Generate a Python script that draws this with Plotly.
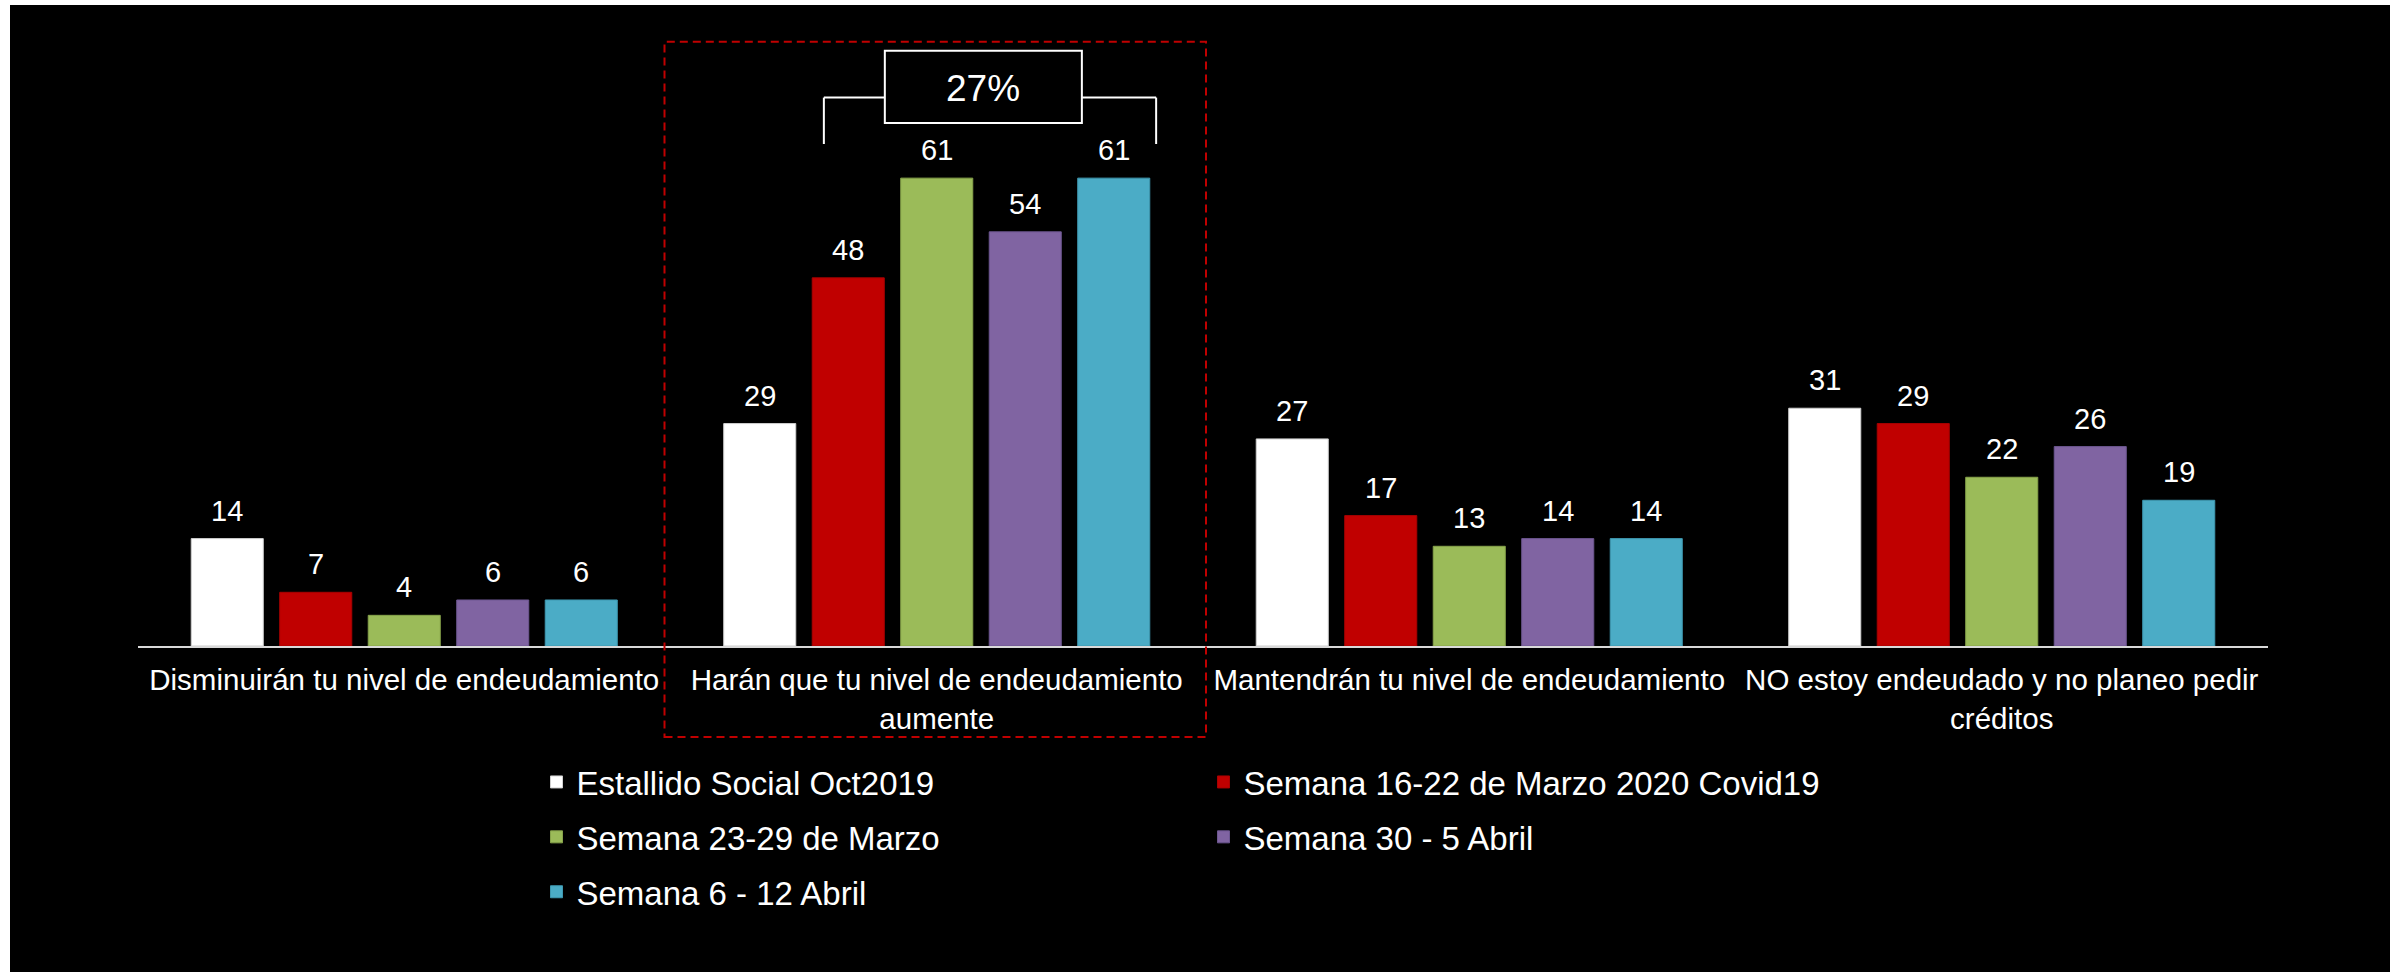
import plotly.graph_objects as go

# ---------------- data ----------------
categories = [
    "Disminuirán tu nivel de endeudamiento",
    "Harán que tu nivel de endeudamiento aumente",
    "Mantendrán tu nivel de endeudamiento",
    "NO estoy endeudado y no planeo pedir créditos",
]
tick_text = [
    "Disminuirán tu nivel de endeudamiento",
    "Harán que tu nivel de endeudamiento<br>aumente",
    "Mantendrán tu nivel de endeudamiento",
    "NO estoy endeudado y no planeo pedir<br>créditos",
]
series_names = [
    "Estallido Social Oct2019",
    "Semana 16-22 de Marzo 2020 Covid19",
    "Semana 23-29 de Marzo",
    "Semana 30 - 5 Abril",
    "Semana 6 - 12 Abril",
]
estallido_oct2019 = [14, 29, 27, 31]
semana_16_22_marzo = [7, 48, 17, 29]
semana_23_29_marzo = [4, 61, 13, 22]
semana_30_5_abril = [6, 54, 14, 26]
semana_6_12_abril = [6, 61, 14, 19]
series_values = [estallido_oct2019, semana_16_22_marzo, semana_23_29_marzo,
                 semana_30_5_abril, semana_6_12_abril]
highlight_label = "27%"

# ---------------- style ----------------
colors = ["#FFFFFF", "#C00000", "#9BBB59", "#8064A2", "#4BACC6"]
outlines = ["#cfcfcf", "#a80000", "#86a34a", "#6c5690", "#3e98b0"]
legend_of = ["legend", "legend2", "legend", "legend2", "legend"]
FONT = "Liberation Sans, Arial, sans-serif"

W, H = 2390, 972
ML, MR, MT, MB = 138, 122, 30, 326
plot_w = W - ML - MR
plot_h = H - MT - MB
px_per_unit = 7.67
y_max = plot_h / px_per_unit
BARGAP = 0.169
BARGROUPGAP = 0.186

def px_x(p):  # pixel -> paper x
    return (p - ML) / plot_w

def px_y(p):  # pixel -> paper y
    return (H - MB - p) / plot_h

fig = go.Figure()
for i, (name, vals) in enumerate(zip(series_names, series_values)):
    fig.add_trace(go.Bar(
        x=categories, y=vals, name=name,
        marker=dict(color=colors[i], line=dict(color=outlines[i], width=1)),
        legend=legend_of[i], legendgroup=name,
        hoverinfo="skip",
    ))

# value labels above the bars
n = len(series_names)
slot_px = plot_w / len(categories) * (1 - BARGAP) / n
annotations = []
for i, vals in enumerate(series_values):
    for c, v in zip(categories, vals):
        annotations.append(dict(
            x=c, y=v, xref="x", yref="y", text=str(v), showarrow=False,
            xshift=(i - (n - 1) / 2) * slot_px, yshift=10, yanchor="bottom",
            font=dict(family=FONT, size=29, color="white"),
        ))

# highlight box label
annotations.append(dict(
    x=1.0874, y=72.75, xref="x", yref="y", text=highlight_label, showarrow=False,
    font=dict(family=FONT, size=37, color="white"),
))

shapes = []
# bracket + box
line_w = dict(color="white", width=2)
shapes += [
    dict(type="line", xref="x", yref="y", x0=0.788, x1=0.788, y0=65.45, y1=71.5, line=line_w),
    dict(type="line", xref="x", yref="y", x0=0.788, x1=0.9025, y0=71.5, y1=71.5, line=line_w),
    dict(type="line", xref="x", yref="y", x0=1.2725, x1=1.412, y0=71.5, y1=71.5, line=line_w),
    dict(type="line", xref="x", yref="y", x0=1.412, x1=1.412, y0=65.45, y1=71.5, line=line_w),
    dict(type="rect", xref="x", yref="y", x0=0.9025, x1=1.2725, y0=68.2, y1=77.6,
         line=line_w, fillcolor="black"),
]
# red dashed highlight frame
shapes.append(dict(type="rect", xref="paper", yref="paper",
                   x0=px_x(664.5), x1=px_x(1206), y0=px_y(737), y1=px_y(41.7),
                   line=dict(color="#C00000", width=2, dash="8px,5px")))
# white page edges (top and left)
shapes.append(dict(type="rect", xref="paper", yref="paper",
                   x0=px_x(0), x1=px_x(10), y0=px_y(H), y1=px_y(0),
                   line=dict(width=0), fillcolor="white"))
shapes.append(dict(type="rect", xref="paper", yref="paper",
                   x0=px_x(0), x1=px_x(W), y0=px_y(5), y1=px_y(0),
                   line=dict(width=0), fillcolor="white"))

legend_common = dict(
    orientation="v", xanchor="left", yanchor="top",
    font=dict(family=FONT, size=33, color="white"),
    bgcolor="rgba(0,0,0,0)", borderwidth=0, tracegroupgap=9,
)

fig.update_layout(
    width=W, height=H,
    margin=dict(l=ML, r=MR, t=MT, b=MB, pad=0),
    paper_bgcolor="black", plot_bgcolor="black",
    barmode="group", bargap=BARGAP, bargroupgap=BARGROUPGAP,
    font=dict(family=FONT, color="white"),
    xaxis=dict(
        type="category", categoryorder="array", categoryarray=categories,
        tickvals=categories, ticktext=tick_text,
        showline=True, linecolor="#d9d9d9", linewidth=2,
        ticks="", showgrid=False, zeroline=False,
        tickfont=dict(family=FONT, size=29.5, color="white"),
        ticklabelstandoff=7,
    ),
    yaxis=dict(range=[0, y_max], visible=False, showgrid=False, zeroline=False),
    legend=dict(x=px_x(536.5), y=px_y(754), **legend_common),
    legend2=dict(x=px_x(1203.5), y=px_y(754), **legend_common),
    annotations=annotations,
    shapes=shapes,
    showlegend=True,
)

fig.write_html(
    "out.html",
    config={"displayModeBar": False},
    post_script="document.body.style.margin='0';document.body.style.overflow='hidden';",
)
